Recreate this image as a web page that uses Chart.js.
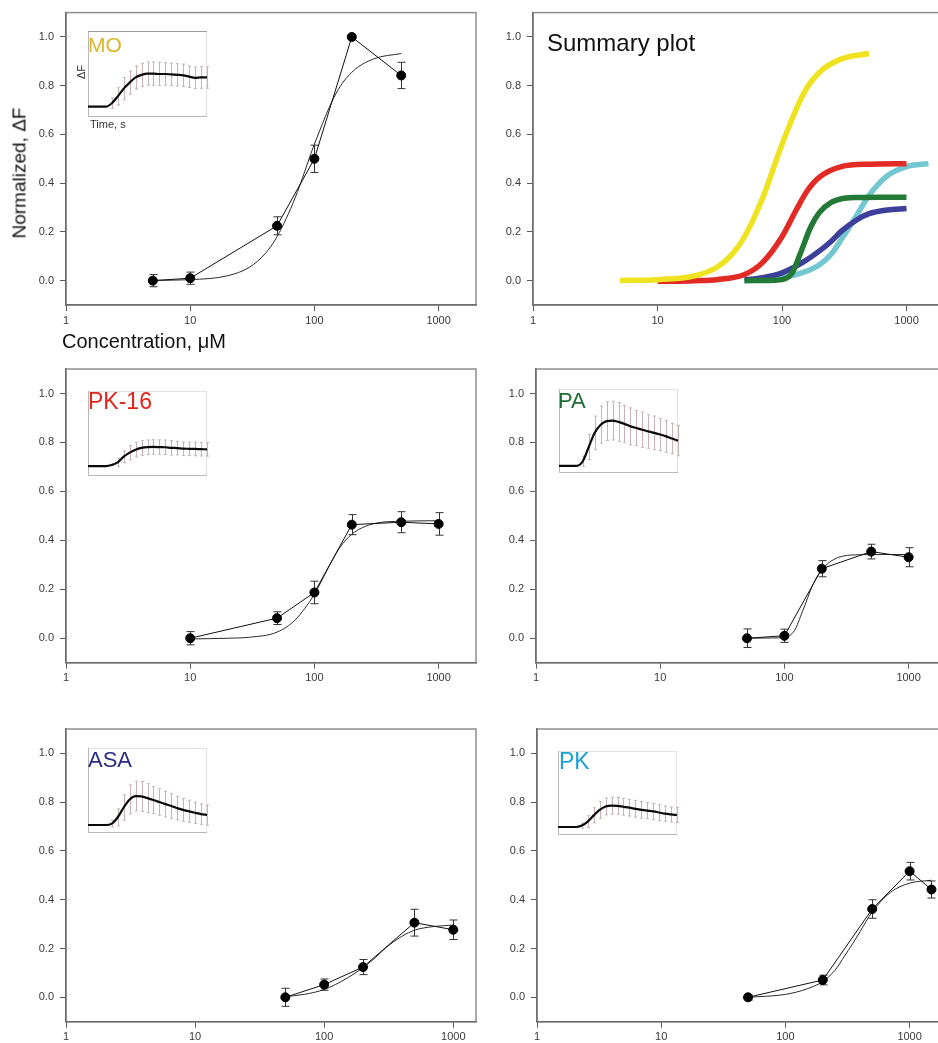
<!DOCTYPE html>
<html><head><meta charset="utf-8">
<script src="https://cdn.jsdelivr.net/npm/chart.js@4.4.1/dist/chart.umd.min.js"></script>
<style>
html,body{margin:0;padding:0;background:#fff;overflow:hidden;}
#wrap{position:relative;width:938px;height:1043px;overflow:hidden;background:#fff;font-family:"Liberation Sans",Arial,sans-serif;}
canvas{position:absolute;}
.lbl{position:absolute;white-space:nowrap;line-height:1;}
</style></head><body><div id="wrap"></div>
<script>
// ---------- tick labels ----------
const yTickValues=[0,0.2,0.4,0.6,0.8,1.0];
const xTickValues=[1,10,100,1000];

// ---------- MO ----------
const moConc=[5,10,50,100,200,500];
const moResp=[0.0,0.01,0.225,0.5,1.0,0.842];
const moErr=[0.025,0.025,0.037,0.056,0,0.054];
const moFitConc=[5,10,20,30,40,50,70,100,150,200,300,500];
const moFitResp=[0.001,0.004,0.02,0.055,0.11,0.18,0.34,0.56,0.77,0.855,0.91,0.932];

// ---------- PK-16 ----------
const pk16Conc=[10,50,100,200,500,1000];
const pk16Resp=[0.0,0.082,0.187,0.464,0.474,0.467];
const pk16Err=[0.027,0.026,0.046,0.041,0.043,0.046];
const pk16FitConc=[10,20,30,50,70,100,130,160,200,300,500,1000];
const pk16FitResp=[-0.003,0.0,0.004,0.025,0.075,0.18,0.29,0.37,0.425,0.468,0.478,0.48];

// ---------- PA ----------
const paConc=[50,100,200,500,1000];
const paResp=[0.0,0.01,0.284,0.354,0.331];
const paErr=[0.038,0.027,0.033,0.03,0.039];
const paFitConc=[50,80,100,120,140,170,200,250,300,400,600,1000];
const paFitResp=[0.0,0.001,0.004,0.03,0.11,0.22,0.28,0.322,0.336,0.341,0.342,0.342];

// ---------- ASA ----------
const asaConc=[50,100,200,500,1000];
const asaResp=[0.0,0.052,0.124,0.306,0.277];
const asaErr=[0.037,0.023,0.031,0.055,0.04];
const asaFitConc=[50,70,100,150,200,250,300,400,500,700,1000];
const asaFitResp=[0.003,0.012,0.032,0.078,0.122,0.163,0.203,0.25,0.275,0.29,0.296];

// ---------- PK ----------
const pkConc=[50,200,500,1000,1500];
const pkResp=[0.0,0.071,0.362,0.517,0.442];
const pkErr=[0.012,0.02,0.038,0.036,0.035];
const pkFitConc=[50,100,150,200,250,300,350,400,500,700,1000,1500];
const pkFitResp=[0.0,0.012,0.035,0.065,0.11,0.17,0.222,0.27,0.35,0.43,0.468,0.48];

// ---------- inset traces (time in % of window, ΔF in inset units) ----------
const insetTime=[0,5,10,15,20,25,30,35,40,45,50,55,60,65,70,75,80,85,90,95,100];
const moTrace=[0.12,0.12,0.12,0.12,0.16,0.24,0.33,0.40,0.46,0.49,0.505,0.505,0.50,0.50,0.495,0.49,0.485,0.47,0.455,0.46,0.46];
const moTraceErr=[0,0,0,0,0.06,0.1,0.13,0.135,0.135,0.135,0.135,0.135,0.135,0.13,0.13,0.13,0.13,0.125,0.125,0.125,0.125];
const pk16Trace=[0.117,0.117,0.117,0.117,0.13,0.16,0.227,0.275,0.31,0.33,0.34,0.342,0.34,0.338,0.332,0.328,0.322,0.32,0.318,0.316,0.314];
const pk16TraceErr=[0,0,0,0,0,0.05,0.07,0.085,0.085,0.085,0.085,0.085,0.085,0.085,0.085,0.08,0.08,0.08,0.08,0.08,0.08];
const paTrace=[0.084,0.084,0.085,0.085,0.14,0.31,0.478,0.575,0.618,0.624,0.608,0.585,0.555,0.535,0.515,0.495,0.478,0.458,0.436,0.41,0.385];
const paTraceErr=[0,0,0,0,0.06,0.15,0.2,0.22,0.23,0.23,0.23,0.22,0.22,0.21,0.21,0.2,0.2,0.19,0.19,0.18,0.18];
const asaTrace=[0.094,0.094,0.094,0.094,0.11,0.185,0.3,0.395,0.435,0.43,0.41,0.388,0.364,0.34,0.318,0.293,0.272,0.255,0.238,0.222,0.212];
const asaTraceErr=[0,0,0,0,0.04,0.1,0.15,0.17,0.175,0.175,0.17,0.16,0.155,0.15,0.145,0.14,0.135,0.13,0.125,0.12,0.12];
const pkTrace=[0.095,0.095,0.095,0.095,0.112,0.16,0.234,0.3,0.34,0.349,0.347,0.336,0.325,0.312,0.3,0.29,0.281,0.268,0.254,0.245,0.238];
const pkTraceErr=[0,0,0,0,0.03,0.07,0.09,0.1,0.1,0.1,0.1,0.1,0.1,0.1,0.1,0.095,0.095,0.095,0.09,0.09,0.09];

// ---------- summary colours ----------
const summaryColors={MO:'#efe21f',PK16:'#e32b25',PA:'#237a36',ASA:'#3d3f9a',PK:'#72c7d1'};

Chart.defaults.font.family='"Liberation Sans", Arial, sans-serif';
Chart.defaults.font.size=11;
Chart.defaults.color='#3a3a3a';
Chart.defaults.animation=false;

const wrap=document.getElementById('wrap');
function addCanvas(l,t,w,h){const c=document.createElement('canvas');c.width=w;c.height=h;
  c.style.left=l+'px';c.style.top=t+'px';c.style.width=w+'px';c.style.height=h+'px';wrap.appendChild(c);return c;}
function pts(xs,ys){return xs.map((x,i)=>({x:x,y:ys[i]}));}

function errPlugin(sets){return {id:'errbars',beforeDatasetsDraw(chart){
  const c=chart.ctx,xs=chart.scales.x,ys=chart.scales.y;c.save();
  for(const s of sets){c.strokeStyle=s.color;c.lineWidth=s.width;
    for(let i=0;i<s.x.length;i++){if(!s.e[i])continue;
      const px=Math.round(xs.getPixelForValue(s.x[i]))+0.5;
      const y1=ys.getPixelForValue(s.y[i]+s.e[i]),y2=ys.getPixelForValue(s.y[i]-s.e[i]);
      c.beginPath();c.moveTo(px,y1);c.lineTo(px,y2);
      c.moveTo(px-s.cap,y1);c.lineTo(px+s.cap,y1);c.moveTo(px-s.cap,y2);c.lineTo(px+s.cap,y2);c.stroke();}}
  c.restore();}};}
function framePlugin(color){return {id:'frame',beforeDraw(chart){const a=chart.chartArea,c=chart.ctx;c.save();
  c.strokeStyle=color;c.lineWidth=1.5;c.strokeRect(a.left,a.top,a.right-a.left,a.bottom-a.top);c.restore();}};}
function insetBox(topCol){return {id:'ibox',beforeDraw(ch){const a=ch.chartArea,c=ch.ctx;c.save();c.lineWidth=1;
  c.strokeStyle='#e6e0e0';c.strokeRect(a.left+0.5,a.top+0.5,a.right-a.left-1,a.bottom-a.top-1);
  c.strokeStyle='#b8b8b8';c.beginPath();c.moveTo(a.left+0.5,a.top);c.lineTo(a.left+0.5,a.bottom-0.5);c.lineTo(a.right,a.bottom-0.5);c.stroke();
  if(topCol){c.strokeStyle=topCol;c.beginPath();c.moveTo(a.left,a.top+0.5);c.lineTo(a.right,a.top+0.5);c.stroke();}
  c.restore();}};}

function mainChart(g,datasets,errSets){
  const c=addCanvas(g.l,g.t,g.w,g.h);
  return new Chart(c,{type:'line',data:{datasets:datasets},options:{
    responsive:false,animation:false,devicePixelRatio:1,
    layout:{autoPadding:false,padding:{left:0,top:g.pt,right:g.pr,bottom:0}},
    plugins:{legend:{display:false},tooltip:{enabled:false}},
    scales:{
      x:{type:'logarithmic',min:1,max:g.xMax,
        afterBuildTicks:s=>{s.ticks=xTickValues.map(v=>({value:v}));},
        afterFit:s=>{s.height=g.xH;},
        ticks:{autoSkip:false,maxRotation:0,padding:3,color:'#3a3a3a',callback:v=>String(v)},
        grid:{drawOnChartArea:false,drawTicks:true,tickLength:6,color:'#5a5a5a',lineWidth:1},
        border:{display:true,color:'#6e6e6e',width:1.5}},
      y:{type:'linear',min:-0.1,max:1.1,
        afterBuildTicks:s=>{s.ticks=yTickValues.map(v=>({value:v}));},
        afterFit:s=>{s.width=g.yW;},
        ticks:{padding:6,color:'#3a3a3a',callback:v=>Number(v).toFixed(1)},
        grid:{drawOnChartArea:false,drawTicks:true,tickLength:6,color:'#5a5a5a',lineWidth:1},
        border:{display:true,color:'#6e6e6e',width:1.5}}
    }},
    plugins:[framePlugin('#8e8e8e'),errPlugin(errSets||[])]
  });
}
function dataSets(cx,cy,fx,fy){return [
  {data:pts(cx,cy),borderColor:'#111',borderWidth:1,pointRadius:4.5,pointHoverRadius:4.5,pointBackgroundColor:'#000',pointBorderColor:'#000',pointBorderWidth:1,tension:0},
  {data:pts(fx,fy),borderColor:'#2a2a2a',borderWidth:1,pointRadius:0,cubicInterpolationMode:'monotone'}
];}
function errs(cx,cy,ce){return [{x:cx,y:cy,e:ce,color:'#333',cap:4,width:1}];}

function inset(b,ys,es,topCol){
  const pad=4,l=b[0]-pad,t=b[1]-pad,w=b[2]-b[0]+2*pad,h=b[3]-b[1]+2*pad;
  const c=addCanvas(l,t,w,h);
  new Chart(c,{type:'line',data:{datasets:[{data:pts(insetTime,ys),borderColor:'#0a0a0a',borderWidth:2.2,pointRadius:0,cubicInterpolationMode:'monotone'}]},
    options:{responsive:false,animation:false,devicePixelRatio:1,
      layout:{autoPadding:false,padding:{left:pad,top:pad,right:pad,bottom:pad}},
      plugins:{legend:{display:false},tooltip:{enabled:false}},
      scales:{x:{type:'linear',display:false,min:0,max:100},y:{type:'linear',display:false,min:0,max:1}}},
    plugins:[insetBox(topCol),errPlugin([{x:insetTime,y:ys,e:es,color:'#c7b3b3',cap:1.5,width:1}])]});
}
function label(text,l,t,size,color,extra){const d=document.createElement('div');d.className='lbl';d.textContent=text;
  d.style.left=l+'px';d.style.top=t+'px';d.style.fontSize=size+'px';d.style.color=color;if(extra)Object.assign(d.style,extra);wrap.appendChild(d);return d;}

// ---------- panels ----------
mainChart({l:0,t:0,w:480,h:335,yW:66,pt:12,pr:4,xH:30,xMax:2000},dataSets(moConc,moResp,moFitConc,moFitResp),errs(moConc,moResp,moErr));
mainChart({l:470,t:0,w:480,h:335,yW:63,pt:12,pr:6,xH:30,xMax:2000},[
  {data:pts(moFitConc,moFitResp),borderColor:summaryColors.MO,borderWidth:5.5,pointRadius:0,cubicInterpolationMode:'monotone'},
  {data:pts(pk16FitConc,pk16FitResp),borderColor:summaryColors.PK16,borderWidth:5.5,pointRadius:0,cubicInterpolationMode:'monotone'},
  {data:pts(paFitConc,paFitResp),borderColor:summaryColors.PA,borderWidth:5.5,pointRadius:0,cubicInterpolationMode:'monotone'},
  {data:pts(asaFitConc,asaFitResp),borderColor:summaryColors.ASA,borderWidth:5.5,pointRadius:0,cubicInterpolationMode:'monotone'},
  {data:pts(pkFitConc,pkFitResp),borderColor:summaryColors.PK,borderWidth:5.5,pointRadius:0,cubicInterpolationMode:'monotone'}
],[]);
mainChart({l:0,t:355,w:480,h:335,yW:66,pt:14,pr:4,xH:27.3,xMax:2000},dataSets(pk16Conc,pk16Resp,pk16FitConc,pk16FitResp),errs(pk16Conc,pk16Resp,pk16Err));
mainChart({l:470,t:355,w:480,h:335,yW:66,pt:14,pr:4,xH:27.3,xMax:2000},dataSets(paConc,paResp,paFitConc,paFitResp),errs(paConc,paResp,paErr));
mainChart({l:0,t:715,w:480,h:328,yW:66,pt:14,pr:4,xH:21.3,xMax:1500},dataSets(asaConc,asaResp,asaFitConc,asaFitResp),errs(asaConc,asaResp,asaErr));
mainChart({l:470,t:715,w:480,h:328,yW:67,pt:14,pr:3,xH:21.3,xMax:2000},dataSets(pkConc,pkResp,pkFitConc,pkFitResp),errs(pkConc,pkResp,pkErr));

// ---------- insets ----------
inset([88,31,207,117],moTrace,moTraceErr,'#9a9a9a');
inset([88,391,207,476],pk16Trace,pk16TraceErr,null);
inset([559,389,678,473],paTrace,paTraceErr,null);
inset([88,748,207,833],asaTrace,asaTraceErr,null);
inset([558,751,677,835],pkTrace,pkTraceErr,null);

// ---------- text ----------
label('MO',88,34,21,'#d9b62c');
label('PK-16',88,390,23,'#e0251b');
label('PA',558,390,22,'#1f6b35');
label('ASA',88,749,22,'#2b2a85');
label('PK',559,750,23,'#1a9fd8');
label('Summary plot',547,31,24,'#111');
label('Time, s',90,119,11,'#333');
label('ΔF',81,72,11,'#333',{transform:'translate(-50%,-50%) rotate(-90deg)'});
label('Normalized, ΔF',19,173,19,'#111',{transform:'translate(-50%,-50%) rotate(-90deg)'});
label('Concentration, μM',62,331,20,'#111');
</script></body></html>
